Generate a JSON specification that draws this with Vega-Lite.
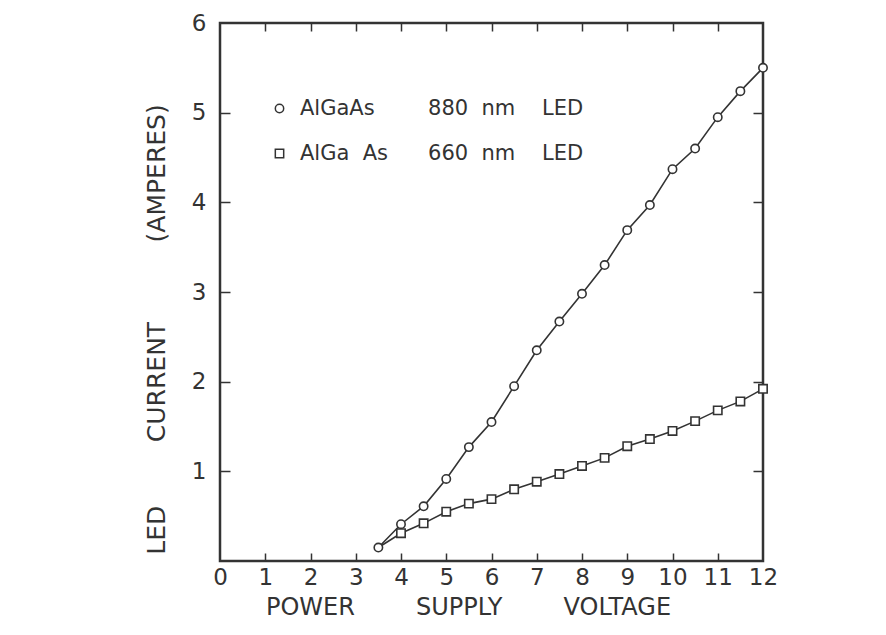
{
  "$schema": "https://vega.github.io/schema/vega-lite/v6.json",
  "autosize": {"type": "none"},
  "padding": {"left": 220, "top": 23, "right": 123, "bottom": 74},
  "width": 543,
  "height": 538,
  "background": "white",
  "config": {"view": {"stroke": "#333", "strokeWidth": 2.5}, "font": "DejaVu Sans"},
  "data": {
    "values": [
      {"led": "880", "v": 3.5, "a": 0.15},
      {"led": "880", "v": 4.0, "a": 0.41},
      {"led": "880", "v": 4.5, "a": 0.61},
      {"led": "880", "v": 5.0, "a": 0.915},
      {"led": "880", "v": 5.5, "a": 1.27},
      {"led": "880", "v": 6.0, "a": 1.55},
      {"led": "880", "v": 6.5, "a": 1.95},
      {"led": "880", "v": 7.0, "a": 2.35},
      {"led": "880", "v": 7.5, "a": 2.67},
      {"led": "880", "v": 8.0, "a": 2.98},
      {"led": "880", "v": 8.5, "a": 3.3},
      {"led": "880", "v": 9.0, "a": 3.69},
      {"led": "880", "v": 9.5, "a": 3.97},
      {"led": "880", "v": 10.0, "a": 4.37},
      {"led": "880", "v": 10.5, "a": 4.6},
      {"led": "880", "v": 11.0, "a": 4.95},
      {"led": "880", "v": 11.5, "a": 5.24},
      {"led": "880", "v": 12.0, "a": 5.5},
      {"led": "660", "v": 3.5, "a": 0.15},
      {"led": "660", "v": 4.0, "a": 0.31},
      {"led": "660", "v": 4.5, "a": 0.42},
      {"led": "660", "v": 5.0, "a": 0.55},
      {"led": "660", "v": 5.5, "a": 0.64},
      {"led": "660", "v": 6.0, "a": 0.69},
      {"led": "660", "v": 6.5, "a": 0.8},
      {"led": "660", "v": 7.0, "a": 0.885},
      {"led": "660", "v": 7.5, "a": 0.97},
      {"led": "660", "v": 8.0, "a": 1.06},
      {"led": "660", "v": 8.5, "a": 1.15},
      {"led": "660", "v": 9.0, "a": 1.28},
      {"led": "660", "v": 9.5, "a": 1.36},
      {"led": "660", "v": 10.0, "a": 1.45},
      {"led": "660", "v": 10.5, "a": 1.56},
      {"led": "660", "v": 11.0, "a": 1.68},
      {"led": "660", "v": 11.5, "a": 1.78},
      {"led": "660", "v": 12.0, "a": 1.92}
    ]
  },
  "layer": [
    {
      "mark": {"type": "line", "color": "#333", "strokeWidth": 1.6},
      "encoding": {
        "detail": {"field": "led"},
        "x": {
          "field": "v", "type": "quantitative",
          "scale": {"domain": [0, 12], "nice": false, "zero": false},
          "axis": {
            "orient": "bottom", "values": [0,1,2,3,4,5,6,7,8,9,10,11,12],
            "grid": false, "ticks": false, "tickSize": 0, "domain": false,
            "labelFontSize": 23, "labelColor": "#333", "labelBaseline": "alphabetic",
            "labelPadding": 23, "labelFlush": false, "labelOverlap": false,
            "title": "POWER\u00a0\u00a0\u00a0\u00a0\u00a0\u00a0\u00a0\u00a0SUPPLY\u00a0\u00a0\u00a0\u00a0\u00a0\u00a0\u00a0\u00a0VOLTAGE",
            "titleFontSize": 24, "titleFontWeight": "normal", "titleColor": "#333",
            "titleX": 248, "titleY": 53, "titleBaseline": "alphabetic", "titleAlign": "center"
          }
        },
        "y": {
          "field": "a", "type": "quantitative",
          "scale": {"domain": [0, 6], "nice": false},
          "axis": {
            "orient": "left", "values": [1,2,3,4,5,6],
            "grid": false, "ticks": false, "tickSize": 0, "domain": false,
            "labelFontSize": 23, "labelColor": "#333", "labelPadding": 14,
            "labelFlush": false, "labelOverlap": false,
            "title": "LED\u00a0\u00a0\u00a0\u00a0\u00a0\u00a0\u00a0\u00a0CURRENT\u00a0\u00a0\u00a0\u00a0\u00a0\u00a0\u00a0\u00a0\u00a0\u00a0(AMPERES)",
            "titleFontSize": 25, "titleFontWeight": "normal", "titleColor": "#333",
            "titleAngle": -90, "titleX": -56, "titleY": 306, "titleBaseline": "alphabetic", "titleAlign": "center"
          }
        }
      }
    },
    {
      "transform": [{"filter": "datum.led == '880'"}],
      "mark": {"type": "point", "color": "#333", "fill": "white", "stroke": "#333", "strokeWidth": 1.6, "size": 70, "opacity": 1},
      "encoding": {
        "x": {
          "field": "v", "type": "quantitative",
          "scale": {"domain": [0, 12], "nice": false, "zero": false},
          "axis": {
            "orient": "top", "offset": -538, "values": [1,2,3,4,5,6,7,8,9,10,11],
            "grid": false, "tickSize": 8, "tickWidth": 1.5, "tickColor": "#333",
            "domain": false, "labels": false, "title": null
          }
        },
        "y": {
          "field": "a", "type": "quantitative",
          "scale": {"domain": [0, 6], "nice": false},
          "axis": {
            "orient": "right", "offset": -543, "values": [1,2,3,4,5],
            "grid": false, "tickSize": 10, "tickWidth": 1.5, "tickColor": "#333",
            "domain": false, "labels": false, "title": null
          }
        },
        "shape": {
          "field": "led", "type": "nominal",
          "scale": {"domain": ["880", "660"], "range": ["circle", "square"]},
          "legend": {
            "orient": "none", "legendX": 49, "legendY": 75, "title": null, "padding": 0,
            "labelExpr": "datum.label == '880' ? 'AlGaAs\u00a0\u00a0\u00a0\u00a0\u00a0\u00a0\u00a0\u00a0880\u00a0\u00a0nm\u00a0\u00a0\u00a0\u00a0LED' : 'AlGa\u00a0\u00a0As\u00a0\u00a0\u00a0\u00a0\u00a0\u00a0660\u00a0\u00a0nm\u00a0\u00a0\u00a0\u00a0LED'",
            "labelFontSize": 21, "labelColor": "#333", "labelLimit": 500, "labelOffset": 10,
            "rowPadding": 23, "symbolSize": 70,
            "encode": {"symbols": {"update": {"stroke": {"value": "#333"}, "fill": {"value": "white"}, "strokeWidth": {"value": 1.6}, "opacity": {"value": 1}}}}
          }
        }
      }
    },
    {
      "transform": [{"filter": "datum.led == '660' && datum.v > 3.5"}],
      "mark": {"type": "point", "color": "#333", "fill": "white", "stroke": "#333", "strokeWidth": 1.6, "size": 70, "opacity": 1},
      "encoding": {
        "x": {
          "field": "v", "type": "quantitative",
          "scale": {"domain": [0, 12], "nice": false, "zero": false},
          "axis": {
            "orient": "bottom", "offset": -538, "values": [1,2,3,4,5,6,7,8,9,10,11],
            "grid": false, "tickSize": 8, "tickWidth": 1.5, "tickColor": "#333",
            "domain": false, "labels": false, "title": null
          }
        },
        "y": {
          "field": "a", "type": "quantitative",
          "scale": {"domain": [0, 6], "nice": false},
          "axis": {
            "orient": "left", "offset": -543, "values": [1,2,3,4,5],
            "grid": false, "tickSize": 10, "tickWidth": 1.5, "tickColor": "#333",
            "domain": false, "labels": false, "title": null
          }
        },
        "shape": {
          "field": "led", "type": "nominal",
          "scale": {"domain": ["880", "660"], "range": ["circle", "square"]},
          "legend": {
            "orient": "none", "legendX": 49, "legendY": 75, "title": null, "padding": 0,
            "labelExpr": "datum.label == '880' ? 'AlGaAs\u00a0\u00a0\u00a0\u00a0\u00a0\u00a0\u00a0\u00a0880\u00a0\u00a0nm\u00a0\u00a0\u00a0\u00a0LED' : 'AlGa\u00a0\u00a0As\u00a0\u00a0\u00a0\u00a0\u00a0\u00a0660\u00a0\u00a0nm\u00a0\u00a0\u00a0\u00a0LED'",
            "labelFontSize": 21, "labelColor": "#333", "labelLimit": 500, "labelOffset": 10,
            "rowPadding": 23, "symbolSize": 70,
            "encode": {"symbols": {"update": {"stroke": {"value": "#333"}, "fill": {"value": "white"}, "strokeWidth": {"value": 1.6}, "opacity": {"value": 1}}}}
          }
        }
      }
    }
  ],
  "resolve": {"axis": {"x": "independent", "y": "independent"}}
}
